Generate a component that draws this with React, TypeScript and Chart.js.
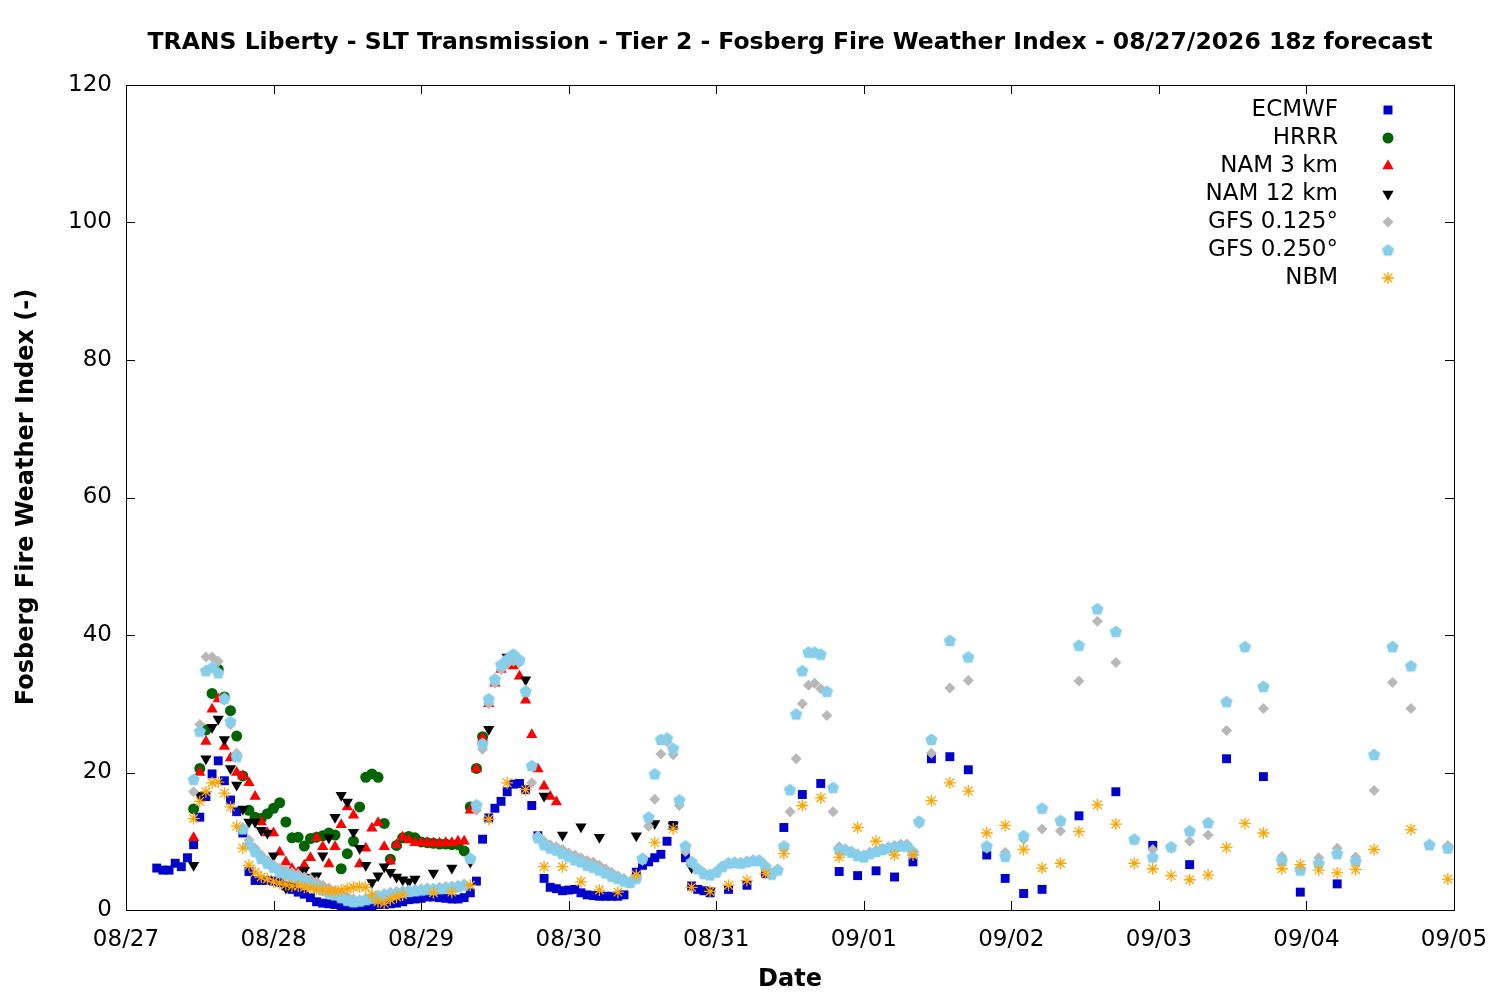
import React, { useEffect, useRef } from "react";
import { Chart, registerables } from "chart.js";
Chart.register(...registerables);

const dateLabels = ["08/27", "08/28", "08/29", "08/30", "08/31", "09/01", "09/02", "09/03", "09/04", "09/05"];

// ECMWF
const ecHourlyStart = 5;
const ecHourly = [6.1, 5.8, 5.8, 6.8, 6.3, 7.6, 9.5, 13.5, 16.5, 19.8, 21.7, 18.8, 16, 14.3, 11.2, 5.6, 4.3, 4.3, 4.3, 4.2, 4.0, 3.5, 3, 2.6, 2.3, 1.8, 1.2, 1.0, 0.9, 0.8, 0.5, 0.4, 0.3, 0.3, 0.5, 0.6, 0.8, 0.8, 0.9, 1.0, 1.2, 1.5, 1.6, 1.7, 1.9, 1.9, 1.8, 1.7, 1.6, 1.6, 1.8, 2.5, 4.2, 10.3, 13.4, 14.8, 15.8, 17.2, 18.3, 18.4, 17.5, 15.2, 10.8, 4.6, 3.3, 3.1, 2.8, 2.9, 3.0, 2.5, 2.2, 2.1, 2.0, 2.0, 2.0, 2.0, 2.2];
const ecLateHours = [83, 84, 85, 86, 87, 88, 89, 91, 92, 93, 94, 95, 98, 101, 104, 107, 110, 113, 116, 119, 122, 125, 128, 131, 134, 137, 140, 143, 146, 149, 155, 161, 167, 173, 179, 185, 191, 197];
const ecLate = [5.5, 6.5, 7.0, 7.6, 8.1, 10.0, 12.3, 7.6, 3.5, 3.0, 2.8, 2.5, 3.0, 3.6, 5.3, 12, 16.8, 18.4, 5.6, 5.0, 5.7, 4.8, 7.0, 22, 22.3, 20.4, 8.0, 4.6, 2.4, 3.0, 13.7, 17.2, 9.4, 6.6, 22, 19.4, 2.6, 3.8];

// HRRR
const hrrrStart = 11;
const hrrr = [14.7, 20.6, 26.2, 31.5, 35, 31, 29, 25.3, 19.5, 14.5, 13.5, 13.3, 14, 14.8, 15.6, 12.8, 10.5, 10.6, 9.3, 10.4, 10.6, 10.8, 11.2, 10.9, 6, 8.2, 10, 15, 19.3, 19.8, 19.3, 12.6, 7.4, 9.4, 10.5, 10.7, 10.5, 9.9, 9.8, 9.7, 9.6, 9.6, 9.5, 9.5, 8.6, 15, 20.6, 25.2];

// NAM 3 km
const nam3Start = 11;
const nam3 = [10.5, 20, 24.5, 29.2, 30.7, 23.8, 22.1, 20, 19.5, 18.5, 16.5, 12.8, 11.2, 11.2, 8.4, 7, 6, 5.5, 6.5, 7.6, 10.5, 9.2, 6.7, 9.2, 12.4, 15, 13.8, 6.7, 9, 11.9, 12.7, 9.2, 7.1, 9.5, 10.6, 10.2, 9.8, 9.8, 9.8, 9.7, 9.7, 9.8, 9.8, 10, 10, 14.5, 20.5, 25, 30, 33, 35, 36, 35.5, 34, 30.5, 25.5, 20.5, 18, 16.5, 15.7];

// NAM 12 km
const nam12Start = 11;
const nam12Hourly = [6.5, 16.7, 22, 26.6, 27.8, 24.8, 20.6, 18.2, 14.7, 12.8, 12.8, 11.6, 11.2, 7.9, 5.5, 3.2, 3.5, 4.5, 5.8, 4.8, 5, 7.9, 10.5, 13.5, 16.7, 15.7, 11.3, 9, 6.5, 4, 5, 6.3, 5.5, 4.8, 4.4, 4.1, 4.5];
const nam12LateHours = [50, 53, 56, 59, 62, 65, 68, 71, 74, 77, 83, 86, 89, 92, 95];
const nam12Late = [5.4, 6.1, 7, 26.3, 36.8, 33.5, 16.6, 10.9, 12.1, 10.6, 10.8, 12.6, 12.3, 6.2, 2.8];

// GFS hourly (h11..h129) then 3-hourly
const gfsStart = 11;
const gfs025Hourly = [19, 26, 34.8, 35.3, 34.5, 30.8, 27.4, 22.3, 11.8, 9.5, 8.5, 7.5, 6.8, 6.2, 5.5, 5.2, 4.9, 4.6, 4.2, 3.8, 3.3, 2.9, 2.5, 2.2, 1.8, 1.4, 1.2, 1.3, 1.5, 1.7, 2.0, 2.1, 2.3, 2.5, 2.6, 2.7, 2.8, 2.9, 3.0, 3.0, 3.1, 3.2, 3.3, 3.4, 3.6, 7.5, 15.3, 24.2, 30.7, 33.6, 35.7, 36.5, 37.2, 36.4, 31.8, 21, 10.5, 9.5, 9, 8.7, 8.2, 7.8, 7.3, 7, 6.5, 6.2, 5.8, 5.4, 4.9, 4.6, 4.2, 4.0, 4.6, 7.5, 13.5, 19.8, 24.8, 25, 23.5, 16, 9.3, 7, 6, 5.3, 5.1, 5.5, 6.3, 6.8, 6.9, 6.8, 7, 7.2, 7.2, 6.3, 5.2, 5.8, 9.3, 17.5, 28.5, 34.8, 37.5, 37.5, 37.2, 31.8, 17.8, 8.8, 8.7, 8.4, 7.9, 7.7, 8.2, 8.5, 8.8, 9.0, 9.2, 9.3, 9.3, 8.4, 12.9];
const gfs0125Hourly = [17.2, 27, 36.8, 36.8, 36.2, 30.5, 27, 22.8, 12, 10.2, 9, 8, 7.2, 6.6, 6.1, 5.8, 5.5, 5.2, 4.8, 4.5, 4.1, 3.6, 3.2, 2.8, 2.4, 2, 1.6, 1.5, 1.7, 2.0, 2.2, 2.4, 2.6, 2.7, 2.8, 2.9, 3.0, 3.1, 3.2, 3.2, 3.3, 3.4, 3.5, 3.6, 3.8, 7.5, 14.5, 23.4, 30, 33, 35, 35.8, 36.2, 36, 32, 18.5, 10.8, 10, 9.5, 9.2, 8.8, 8.3, 8, 7.6, 7.2, 7, 6.5, 6, 5.5, 5, 4.6, 4.2, 4.8, 7.2, 12.2, 16.1, 22.7, 24.5, 22.6, 15.2, 8.5, 6.8, 6, 5.4, 5.2, 5.6, 6.4, 6.9, 7.0, 6.9, 7.1, 7.3, 7.3, 6.5, 5.4, 6, 9, 14.3, 22, 30, 32.7, 33, 32.2, 28.3, 14.3, 9.2, 8.9, 8.6, 8.2, 8, 8.4, 8.7, 9.0, 9.2, 9.4, 9.6, 9.6, 8.6, 12.6];
const gfsLateHours = [131, 134, 137, 140, 143, 146, 149, 152, 155, 158, 161, 164, 167, 170, 173, 176, 179, 182, 185, 188, 191, 194, 197, 200, 203, 206, 209, 212, 215];
const gfs025Late = [24.8, 39.2, 36.8, 9.3, 7.8, 10.8, 14.8, 13, 38.5, 43.8, 40.5, 10.3, 7.7, 9.2, 11.5, 12.7, 30.3, 38.3, 32.5, 7.2, 5.8, 6.8, 8.2, 7.1, 22.6, 38.3, 35.5, 9.5, 9];
const gfs0125Late = [22.8, 32.3, 33.4, 9, 8.4, 10.3, 11.8, 11.5, 33.3, 42, 36, 10.2, 8.8, 9.0, 10, 10.9, 26.1, 38.2, 29.3, 7.8, 6.2, 7.6, 9, 7.7, 17.4, 33.1, 29.3, 9.5, 9.4];

// NBM
const nbmStart = 11;
const nbmHourly = [13.3, 15.8, 17.2, 18.5, 18.6, 17, 15, 12.2, 9, 6.5, 5.5, 4.8, 4.5, 4.1, 3.9, 3.7, 3.5, 3.5, 3.3, 3.2, 3.0, 2.9, 2.8, 2.7, 2.9, 3.1, 3.3, 3.4, 3.3, 2.2, 1.2, 1.0, 1.5, 1.9, 2.2];
const nbmLateHours = [50, 53, 56, 59, 62, 65, 68, 71, 74, 77, 80, 83, 86, 89, 92, 95, 98, 101, 104, 107, 110, 113, 116, 119, 122, 125, 128, 131, 134, 137, 140, 143, 146, 149, 152, 155, 158, 161, 164, 167, 170, 173, 176, 179, 182, 185, 188, 191, 194, 197, 200, 203, 209, 215];
const nbmLate = [2.5, 2.6, 3.6, 13.2, 18.5, 17.5, 6.3, 6.3, 4.1, 2.9, 2.6, 5.1, 9.8, 11.8, 3.3, 2.7, 3.6, 4.3, 5.3, 8.2, 15.2, 16.3, 7.7, 12, 10, 8.0, 8.0, 15.9, 18.5, 17.3, 11.2, 12.3, 8.8, 6.1, 6.8, 11.4, 15.3, 12.5, 6.8, 6.0, 5.0, 4.4, 5.1, 9.1, 12.6, 11.2, 6.0, 6.6, 5.8, 5.4, 5.9, 8.8, 11.7, 4.5];

const yTicks = [0, 20, 40, 60, 80, 100, 120];

const hourly = (start: number, vals: number[]) => vals.map((y, i) => ({ x: start + i, y }));
const listed = (hs: number[], vals: number[]) => hs.map((x, i) => ({ x, y: vals[i] }));

function pentagon(color: string, r: number) {
  const c = document.createElement("canvas");
  const s = Math.ceil(r * 2 + 2);
  c.width = s; c.height = s;
  const g = c.getContext("2d")!;
  g.fillStyle = color;
  g.beginPath();
  for (let i = 0; i < 5; i++) {
    const a = -Math.PI / 2 + (i * 2 * Math.PI) / 5;
    const px = s / 2 + r * Math.cos(a), py = s / 2 + r * Math.sin(a) + 0.5;
    i ? g.lineTo(px, py) : g.moveTo(px, py);
  }
  g.closePath(); g.fill();
  return c;
}

const FONT = "'DejaVu Sans', sans-serif";

export default function App() {
  const ref = useRef<HTMLCanvasElement>(null);
  useEffect(() => {
    document.body.style.margin = "0";
    const pent = pentagon("#87ceeb", 6.5);
    const items = [
      { label: "ECMWF", color: "#0000cc", style: "rect", r: 6.3, rot: 0 },
      { label: "HRRR", color: "#006400", style: "circle", r: 5.5, rot: 0 },
      { label: "NAM 3 km", color: "#ff0000", style: "triangle", r: 6.5, rot: 0 },
      { label: "NAM 12 km", color: "#000000", style: "triangle", r: 6.5, rot: 180 },
      { label: "GFS 0.125°", color: "#b8b8b8", style: "rectRot", r: 5.5, rot: 0 },
      { label: "GFS 0.250°", color: "#87ceeb", style: pent as any, r: 6.5, rot: 0 },
      { label: "NBM", color: "#ffa500", style: "star", r: 6, rot: 0 },
    ];
    const dataArr = [
      [...hourly(ecHourlyStart, ecHourly), ...listed(ecLateHours, ecLate)],
      hourly(hrrrStart, hrrr),
      hourly(nam3Start, nam3),
      [...hourly(nam12Start, nam12Hourly), ...listed(nam12LateHours, nam12Late)],
      [...hourly(gfsStart, gfs0125Hourly), ...listed(gfsLateHours, gfs0125Late)],
      [...hourly(gfsStart, gfs025Hourly), ...listed(gfsLateHours, gfs025Late)],
      [...hourly(nbmStart, nbmHourly), ...listed(nbmLateHours, nbmLate)],
    ];
    const datasets = items.map((it, i) => ({
      label: it.label,
      data: dataArr[i],
      showLine: false,
      pointStyle: it.style as any,
      pointRadius: it.r,
      pointRotation: it.rot,
      backgroundColor: it.color,
      borderColor: it.color,
      borderWidth: it.style === "star" ? 1.3 : 0,
      order: 7 - i,
    }));

    const chart = new Chart(ref.current!, {
      type: "scatter",
      data: { datasets },
      options: {
        animation: false,
        responsive: false,
        layout: { padding: { top: 85, right: 46, left: 0, bottom: 0 } },
        plugins: { legend: { display: false }, tooltip: { enabled: false } },
        scales: {
          x: {
            type: "linear", min: 0, max: 216,
            afterFit: (s: any) => { s.height = 90; s.paddingLeft = 0; s.paddingRight = 0; },
            afterBuildTicks: (s: any) => { s.ticks = dateLabels.map((_, i) => ({ value: i * 24 })); },
            grid: { display: false, drawTicks: false },
            border: { display: false },
            ticks: { padding: 16, color: "#000", font: { family: FONT, size: 23 }, maxRotation: 0, autoSkip: false,
              callback: (v: any) => dateLabels[Math.round(v / 24)] },
          },
          y: {
            min: 0, max: 120,
            afterFit: (s: any) => { s.width = 126; s.paddingTop = 0; s.paddingBottom = 0; },
            afterBuildTicks: (s: any) => { s.ticks = yTicks.map((v) => ({ value: v })); },
            grid: { display: false, drawTicks: false },
            border: { display: false },
            ticks: { padding: 14, color: "#000", font: { family: FONT, size: 23 } },
          },
        },
      },
      plugins: [{
        id: "deco",
        afterDraw(chart: any) {
          const { ctx, chartArea: a, scales } = chart;
          ctx.save();
          ctx.strokeStyle = "#000"; ctx.lineWidth = 1;
          ctx.strokeRect(a.left + 0.5, a.top + 0.5, a.right - a.left, a.bottom - a.top);
          ctx.beginPath();
          for (let d = 0; d <= 9; d++) {
            const x = Math.round(scales.x.getPixelForValue(d * 24)) + 0.5;
            ctx.moveTo(x, a.bottom); ctx.lineTo(x, a.bottom - 9);
            ctx.moveTo(x, a.top); ctx.lineTo(x, a.top + 9);
          }
          for (const v of yTicks) {
            const y = Math.round(scales.y.getPixelForValue(v)) + 0.5;
            ctx.moveTo(a.left, y); ctx.lineTo(a.left + 9, y);
            ctx.moveTo(a.right, y); ctx.lineTo(a.right - 9, y);
          }
          ctx.stroke();
          ctx.fillStyle = "#000";
          ctx.font = `bold 23.5px ${FONT}`;
          ctx.textAlign = "center"; ctx.textBaseline = "middle";
          ctx.fillText("TRANS Liberty - SLT Transmission - Tier 2 - Fosberg Fire Weather Index - 08/27/2026 18z forecast", 790, 43);
          ctx.font = `bold 24px ${FONT}`;
          ctx.fillText("Date", 790, 980);
          ctx.save();
          ctx.translate(27, 497); ctx.rotate(-Math.PI / 2);
          ctx.fillText("Fosberg Fire Weather Index (-)", 0, 0);
          ctx.restore();
          ctx.font = `23px ${FONT}`;
          items.forEach((it, i) => {
            const y = 110 + i * 28;
            const cx = 1388;
            ctx.textAlign = "right";
            ctx.fillStyle = "#000";
            ctx.fillText(it.label, 1338, y);
            ctx.fillStyle = it.color; ctx.strokeStyle = it.color;
            ctx.lineWidth = 1.3;
            const ps = it.style;
            if (typeof ps !== "string") {
              ctx.drawImage(ps as any, cx - (ps as any).width / 2, y - (ps as any).height / 2);
            } else {
              const r = it.r;
              ctx.beginPath();
              if (ps === "rect") ctx.rect(cx - r * 0.71, y - r * 0.71, r * 1.42, r * 1.42);
              else if (ps === "circle") ctx.arc(cx, y, r, 0, Math.PI * 2);
              else if (ps === "rectRot") { ctx.moveTo(cx, y - r); ctx.lineTo(cx + r, y); ctx.lineTo(cx, y + r); ctx.lineTo(cx - r, y); ctx.closePath(); }
              else if (ps === "triangle") {
                const s = it.rot ? -1 : 1;
                ctx.moveTo(cx, y - s * r); ctx.lineTo(cx + r * 0.87, y + s * r * 0.5); ctx.lineTo(cx - r * 0.87, y + s * r * 0.5); ctx.closePath();
              } else if (ps === "star") {
                for (let k = 0; k < 4; k++) {
                  const ang = (k * Math.PI) / 4;
                  ctx.moveTo(cx + r * Math.cos(ang), y + r * Math.sin(ang));
                  ctx.lineTo(cx - r * Math.cos(ang), y - r * Math.sin(ang));
                }
                ctx.stroke();
              }
              if (ps !== "star") ctx.fill();
            }
          });
          ctx.restore();
        },
      }],
    });
    return () => chart.destroy();
  }, []);
  return <canvas ref={ref} width={1500} height={1000} style={{ display: "block" }} />;
}
